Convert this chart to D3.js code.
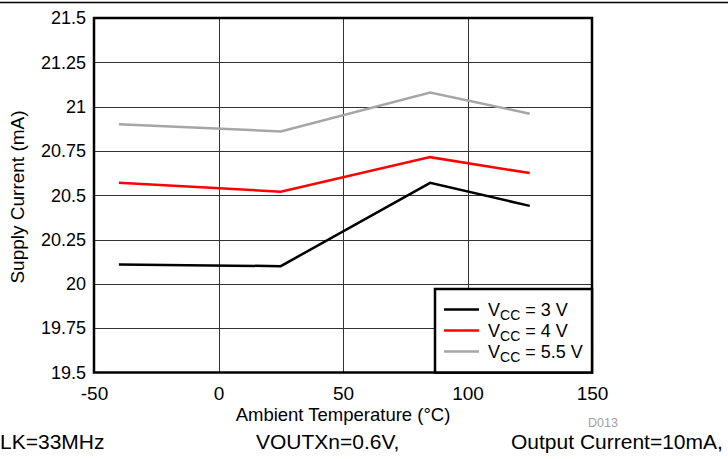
<!DOCTYPE html>
<html>
<head>
<meta charset="utf-8">
<script src="https://cdn.jsdelivr.net/npm/d3@7"></script>
<style>
  body { margin: 0; background: #fff; }
  svg { font-family: "Liberation Sans", Arial, sans-serif; }
</style>
</head>
<body>
<svg id="chart" width="728" height="459"></svg>
<script>
// Chart data
const temps = [-40, 25, 85, 125];
const vcc3 = [20.11, 20.10, 20.57, 20.44];
const vcc4 = [20.57, 20.52, 20.715, 20.625];
const vcc55 = [20.90, 20.86, 21.08, 20.96];
const seriesNames = ['V_CC = 3 V', 'V_CC = 4 V', 'V_CC = 5.5 V'];
const seriesColors = ['#000000', '#ff0000', '#a6a6a6'];
const xTicks = [-50, 0, 50, 100, 150];
const yTicks = [19.5, 19.75, 20, 20.25, 20.5, 20.75, 21, 21.25, 21.5];
const yTickLabels = ['19.5', '19.75', '20', '20.25', '20.5', '20.75', '21', '21.25', '21.5'];
const footNotes = ['LK=33MHz', 'VOUTXn=0.6V,', 'Output Current=10mA,'];

const svg = d3.select('#chart');

const plot = { left: 94, right: 592, top: 18, bottom: 372.5 };

const xScale = d3.scaleLinear().domain([-50, 150]).range([plot.left, plot.right]);
const yScale = d3.scaleLinear().domain([19.5, 21.5]).range([plot.bottom, plot.top]);

// Top rule of the page
svg.append('line')
  .attr('x1', 0).attr('x2', 728)
  .attr('y1', 2.5).attr('y2', 2.5)
  .style('stroke', '#000').style('stroke-width', 1.5);

// Gridlines
const grid = svg.append('g').attr('class', 'grid');
grid.selectAll('line.vgrid')
  .data(xTicks.slice(1, -1))
  .join('line')
  .attr('class', 'vgrid')
  .attr('x1', d => Math.round(xScale(d)) + 0.5)
  .attr('x2', d => Math.round(xScale(d)) + 0.5)
  .attr('y1', plot.top).attr('y2', plot.bottom)
  .style('stroke', '#333').style('stroke-width', 1);

grid.selectAll('line.hgrid')
  .data(yTicks.slice(1, -1))
  .join('line')
  .attr('class', 'hgrid')
  .attr('x1', plot.left).attr('x2', plot.right)
  .attr('y1', d => Math.round(yScale(d)) + 0.5)
  .attr('y2', d => Math.round(yScale(d)) + 0.5)
  .style('stroke', '#333').style('stroke-width', 1);

// Axes (labels only; frame drawn separately)
const xAxis = svg.append('g')
  .attr('transform', `translate(0, ${plot.bottom})`)
  .call(d3.axisBottom(xScale).tickValues(xTicks).tickSize(0).tickPadding(14.5)
    .tickFormat(d => String(d)));

const yAxis = svg.append('g')
  .attr('transform', `translate(${plot.left}, 0)`)
  .call(d3.axisLeft(yScale).tickValues(yTicks).tickSize(0).tickPadding(8)
    .tickFormat((d, i) => yTickLabels[i]));

[xAxis, yAxis].forEach(a => {
  a.select('.domain').remove();
  a.attr('font-family', null).attr('font-size', null);
  a.selectAll('text')
    .style('font-family', '"Liberation Sans", Arial, sans-serif')
    .style('font-size', '18px')
    .style('fill', '#000');
});
xAxis.selectAll('text').style('font-size', '19px');

// Series lines
const allSeries = [vcc3, vcc4, vcc55];
const line = d3.line()
  .x((d, i) => xScale(temps[i]))
  .y(d => yScale(d));

svg.append('g')
  .selectAll('path')
  .data(allSeries)
  .join('path')
  .attr('d', d => line(d))
  .style('fill', 'none')
  .style('stroke', (d, i) => seriesColors[i])
  .style('stroke-width', 2.5);

// Plot frame
svg.append('rect')
  .attr('x', plot.left).attr('y', plot.top)
  .attr('width', plot.right - plot.left)
  .attr('height', plot.bottom - plot.top)
  .style('fill', 'none')
  .style('stroke', '#000')
  .style('stroke-width', 2.5);

// Legend
const legend = svg.append('g').attr('class', 'legend');
legend.append('rect')
  .attr('x', 435).attr('y', 289)
  .attr('width', plot.right - 435)
  .attr('height', plot.bottom - 289)
  .style('fill', '#fff')
  .style('stroke', '#000')
  .style('stroke-width', 2.5);

const rows = legend.selectAll('g.row')
  .data(seriesNames)
  .join('g')
  .attr('class', 'row')
  .attr('transform', (d, i) => `translate(444, ${309.5 + i * 21})`);

rows.append('line')
  .attr('x1', 0).attr('x2', 35)
  .style('stroke', (d, i) => seriesColors[i])
  .style('stroke-width', 2.5);

const rowText = rows.append('text')
  .attr('x', 44).attr('y', 6)
  .style('font-size', '18px');
rowText.each(function (d) {
  const parts = d.split('_');
  const rest = parts[1].split(' ');
  const t = d3.select(this);
  t.append('tspan').text(parts[0]);
  t.append('tspan').attr('dy', 4).style('font-size', '14px').text(rest[0]);
  t.append('tspan').attr('dy', -4).text(' ' + rest.slice(1).join(' '));
});

// Axis titles
svg.append('text')
  .attr('x', 343)
  .attr('y', 420.5)
  .attr('text-anchor', 'middle')
  .style('font-size', '18.5px')
  .text('Ambient Temperature (°C)');

svg.append('text')
  .attr('transform', 'translate(24, 197) rotate(-90)')
  .attr('text-anchor', 'middle')
  .style('font-size', '19px')
  .text('Supply Current (mA)');

// Figure id
svg.append('text')
  .attr('x', 588).attr('y', 427)
  .style('font-size', '12.5px')
  .style('fill', '#a0a0a0')
  .text('D013');

// Footnote row
const footX = [0, 256, 511];
svg.selectAll('text.foot')
  .data(footNotes)
  .join('text')
  .attr('class', 'foot')
  .attr('x', (d, i) => footX[i])
  .attr('y', 449)
  .style('font-size', '21px')
  .text(d => d);
</script>
</body>
</html>
